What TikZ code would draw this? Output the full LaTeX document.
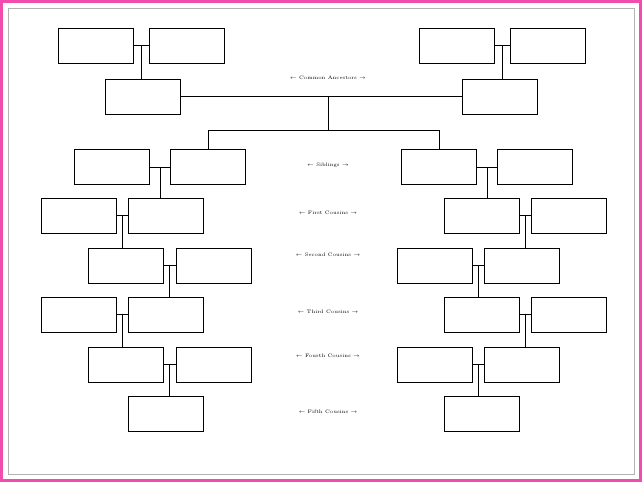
\documentclass[tikz,border=0pt]{standalone}
\usetikzlibrary{positioning}

\begin{document}
\begin{tikzpicture}[
    x=1pt,y=-1pt,
    box/.style={rectangle,draw,minimum width=75pt,minimum height=35pt,inner sep=0pt},
    gen/.style={font=\tiny,inner sep=1pt},
    link/.style={draw,semithick}
]
\useasboundingbox (0,0) rectangle (642,482);
\draw[magenta!70,line width=2.5pt] (1.5,1.5) rectangle (640.5,480.5);
\draw[gray!60] (8,8) rectangle (634,474);

% Common ancestors
\node[box] (ta1) at (95.5,45.5) {};
\node[box] (ta2) at (186.5,45.5) {};
\node[box] (ta3) at (142.5,96.5) {};
\node[box] (tb1) at (456.5,45.5) {};
\node[box] (tb2) at (547.5,45.5) {};
\node[box] (tb3) at (499.5,96.5) {};

% Left line
\node[box] (l2a) at (112,167) {};
\node[box] (l2b) at (208,167) {};
\node[box] (l3a) at (78.5,215.5) {};
\node[box] (l3b) at (165.5,215.5) {};
\node[box] (l4a) at (125.5,265.5) {};
\node[box] (l4b) at (213.5,265.5) {};
\node[box] (l5a) at (78.5,314.5) {};
\node[box] (l5b) at (165.5,314.5) {};
\node[box] (l6a) at (125.5,364.5) {};
\node[box] (l6b) at (213.5,364.5) {};
\node[box] (l7) at (165.5,413.5) {};

% Right line
\node[box] (r2a) at (439,167) {};
\node[box] (r2b) at (535,167) {};
\node[box] (r3a) at (482,215.5) {};
\node[box] (r3b) at (569,215.5) {};
\node[box] (r4a) at (434.5,265.5) {};
\node[box] (r4b) at (522,265.5) {};
\node[box] (r5a) at (482,314.5) {};
\node[box] (r5b) at (569,314.5) {};
\node[box] (r6a) at (434.5,364.5) {};
\node[box] (r6b) at (522,364.5) {};
\node[box] (r7) at (482,413.5) {};

% Generation labels
\node[gen] (g0) at (328,78) {$\leftarrow$ Common Ancestors $\rightarrow$};
\node[gen] (g1) at (328,165) {$\leftarrow$ Siblings $\rightarrow$};
\node[gen] (g2) at (328,213) {$\leftarrow$ First Cousins $\rightarrow$};
\node[gen] (g3) at (328,255) {$\leftarrow$ Second Cousins $\rightarrow$};
\node[gen] (g4) at (328,312) {$\leftarrow$ Third Cousins $\rightarrow$};
\node[gen] (g5) at (328,356) {$\leftarrow$ Fourth Cousins $\rightarrow$};
\node[gen] (g6) at (328,412) {$\leftarrow$ Fifth Cousins $\rightarrow$};

% Couples and children
\foreach \a/\b/\c in {ta1/ta2/ta3,tb1/tb2/tb3,
    l2a/l2b/l3b,l3a/l3b/l4a,l4a/l4b/l5b,l5a/l5b/l6a,l6a/l6b/l7,
    r2a/r2b/r3a,r3a/r3b/r4b,r4a/r4b/r5a,r5a/r5b/r6b,r6a/r6b/r7}{
  \draw[link] (\a.east) -- (\b.west) coordinate[midway] (m);
  \draw[link] (m) -- (m |- \c.north);
}

% Common ancestors to siblings
\coordinate (top) at (328,96.5);
\draw[link] (ta3.east) -- (tb3.west);
\draw[link] (top) -- ++(0,34) coordinate (split);
\draw[link] (l2b.north) |- (split) -| (r2a.north);

\end{tikzpicture}
\end{document}
